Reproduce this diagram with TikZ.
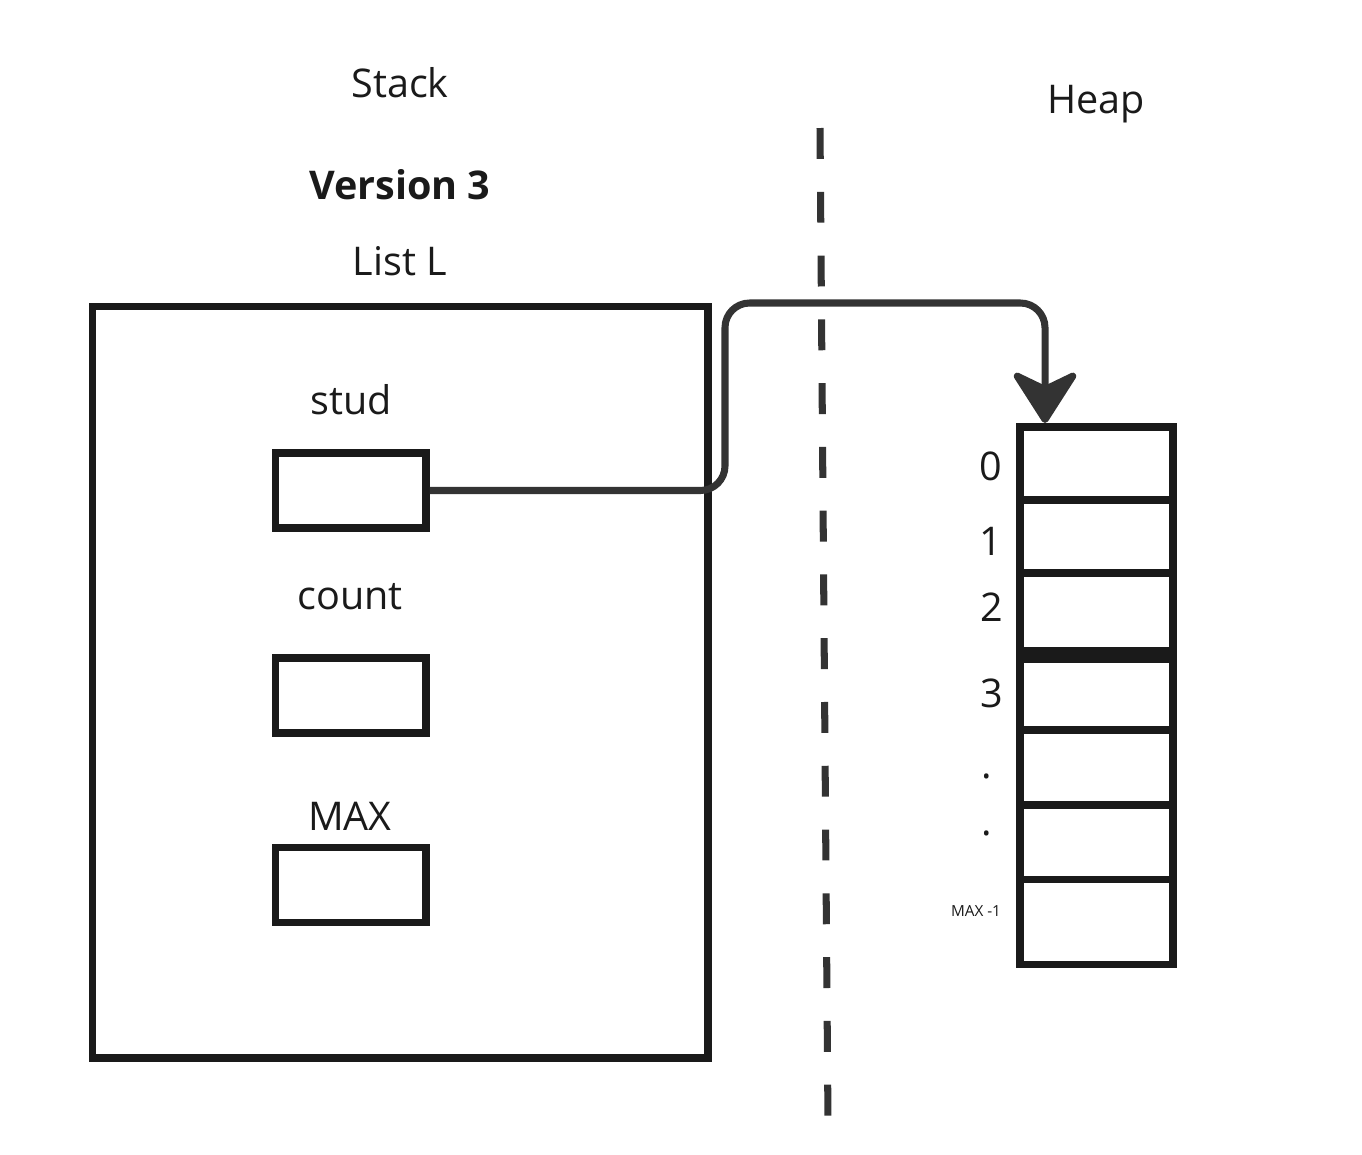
\documentclass[tikz,border=0pt]{standalone}
\usepackage{fontspec}
\setmainfont{Open Sans}
\usetikzlibrary{arrows.meta}

\definecolor{boxcol}{HTML}{1A1A1A}
\definecolor{linkcol}{HTML}{333333}

\tikzset{
  lbl/.style={font=\fontsize{22.5}{27}\selectfont, text=boxcol, anchor=base, inner sep=0pt},
  small/.style={font=\fontsize{8.7}{10}\selectfont, text=boxcol, anchor=base, inner sep=0pt},
  cell/.style={draw=boxcol, line width=4.5pt, inner sep=0pt},
  link/.style={draw=linkcol, line width=4pt, rounded corners=14pt,
    -{Stealth[length=33pt, width=42pt, inset=10pt, round]}},
  divider/.style={draw=linkcol, line width=4pt, dash pattern=on 17.6pt off 18.7pt}
}

\begin{document}
\begin{tikzpicture}[x=0.02cm, y=-0.02cm]
  \useasboundingbox (0,0) rectangle (1362,1154);

  % titles
  \node[lbl] (stack) at (400,97) {Stack};
  \node[lbl] (heap) at (1096,113) {Heap};
  \node[lbl, font=\fontsize{22.5}{27}\selectfont\bfseries] (version) at (400,199) {Version 3};
  \node[lbl] (listl) at (400,275) {List L};

  % the list on the stack
  \node[cell, minimum width=12.32cm, minimum height=15.04cm] (listbox) at (400.4,682.4) {};
  \node[lbl] (studlbl) at (351,414) {stud};
  \node[cell, minimum width=3.01cm, minimum height=1.5cm] (studbox) at (350.75,490.5) {};
  \node[lbl] (countlbl) at (350,609) {count};
  \node[cell, minimum width=3.01cm, minimum height=1.5cm] (countbox) at (350.75,695.5) {};
  \node[lbl] (maxlbl) at (350,830) {MAX};
  \node[cell, minimum width=3.01cm, minimum height=1.5cm] (maxbox) at (350.75,885) {};

  % stack / heap divider
  \coordinate (divtop) at (820,128);
  \coordinate (divbot) at (828,1122);
  \draw[divider] (divtop) -- (divbot);

  % the array on the heap
  \foreach \i/\t/\b in {0/426.7/500, 1/500/573, 2/573/651.3, 3/651.3/730, 4/730/805, 5/805/879.5, 6/879.5/964.5}
    \node[cell, minimum width=3.056cm, minimum height={(\b-\t)*0.02cm}] (c\i) at (1096.4,{(\t+\b)/2}) {};
  \draw[boxcol, line width=9pt] (c2.south west) -- (c2.south east);

  \node[lbl] (i0) at (991,480) {0};
  \node[lbl] (i1) at (991,555) {1};
  \node[lbl] (i2) at (992,621) {2};
  \node[lbl] (i3) at (992,707) {3};
  \node[lbl] (i4) at (987,778) {.};
  \node[lbl] (i5) at (987,835) {.};
  \node[small] (i6) at (976,916) {MAX -1};

  % pointer from stud to the array
  \coordinate (bend) at (725,303);
  \coordinate (tip) at (1045,423);
  \draw[link] (studbox.east) -| (bend) -| (tip);
\end{tikzpicture}
\end{document}
